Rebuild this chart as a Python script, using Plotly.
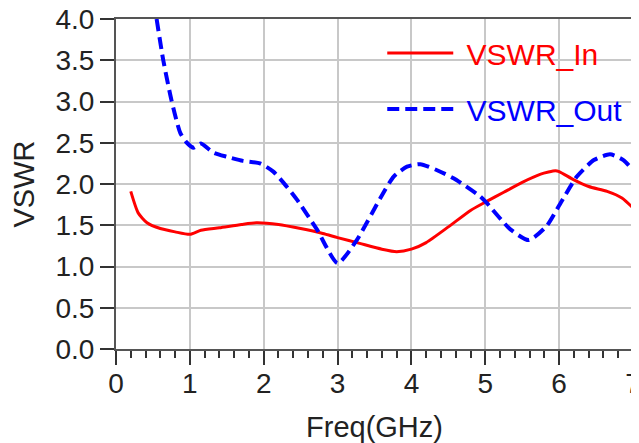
import plotly.graph_objects as go

freq_in = [0.2, 0.3, 0.42, 0.6, 0.8, 1.0, 1.15, 1.4, 1.7, 1.9, 2.2, 2.5, 2.8, 3.0, 3.3, 3.6, 3.8, 4.0, 4.2, 4.5,
           4.8, 5.0, 5.25, 5.5, 5.75, 5.95, 6.0, 6.2, 6.4, 6.65, 6.85, 7.0]
vswr_in = [1.91, 1.65, 1.53, 1.46, 1.42, 1.39, 1.44, 1.47, 1.51, 1.53, 1.51, 1.46, 1.40, 1.35, 1.28, 1.21, 1.18, 1.21, 1.29, 1.48,
           1.68, 1.78, 1.90, 2.02, 2.12, 2.16, 2.15, 2.05, 1.97, 1.91, 1.83, 1.71]

freq_out = [0.55, 0.64, 0.75, 0.87, 0.96, 1.05, 1.15, 1.32, 1.5, 1.72, 1.95, 2.13, 2.31, 2.45, 2.72, 3.0, 3.26, 3.58,
            3.76, 3.94, 4.12, 4.34, 4.57, 4.93, 5.02, 5.34, 5.59, 5.83, 6.02, 6.24, 6.47, 6.69, 6.87, 7.0]
vswr_out = [4.0, 3.5, 3.02, 2.62, 2.50, 2.44, 2.49, 2.38, 2.33, 2.28, 2.25, 2.15, 1.97, 1.81, 1.45, 1.04, 1.32, 1.83,
            2.09, 2.21, 2.24, 2.17, 2.07, 1.85, 1.77, 1.45, 1.32, 1.49, 1.77, 2.09, 2.29, 2.36, 2.29, 2.17]

x_ticks = [0, 1, 2, 3, 4, 5, 6, 7]
y_ticks = [0.0, 0.5, 1.0, 1.5, 2.0, 2.5, 3.0, 3.5, 4.0]

FONT = "Liberation Sans, Arial, sans-serif"
TXT = "#222222"

fig = go.Figure()
fig.add_trace(go.Scatter(x=freq_in, y=vswr_in, mode="lines",
                         name="<span style='color:#FF0000'>\u00a0VSWR_In</span>",
                         line=dict(color="#FF0000", width=3, shape="spline", smoothing=0.6),
                         legendgroup="a"))
fig.add_trace(go.Scatter(x=freq_out, y=vswr_out, mode="lines",
                         name="<span style='color:#0000FF'>\u00a0VSWR_Out</span>",
                         line=dict(color="#0000FF", width=4, dash="12px,6px", shape="spline", smoothing=0.6),
                         legendgroup="b"))

# the page body adds an 8px margin, so the figure is sized/offset to compensate
fig.update_layout(
    width=631, height=435,
    margin=dict(l=108, r=6, t=11, b=94),
    paper_bgcolor="white", plot_bgcolor="white",
    font=dict(family=FONT, color=TXT),
    showlegend=True,
    legend=dict(x=0.515, y=0.976, xanchor="left", yanchor="top",
                bgcolor="rgba(0,0,0,0)", font=dict(size=30, family=FONT),
                itemwidth=66, tracegroupgap=14),
    xaxis=dict(range=[0, 7], tickvals=x_ticks, ticktext=[str(v) for v in x_ticks],
               automargin=False, ticklabeloverflow="allow",
               showgrid=True, gridcolor="#C8C8C8", gridwidth=2,
               showline=True, linecolor="#555555", linewidth=2, mirror=True,
               ticks="outside", ticklen=14, tickwidth=2, tickcolor="#333333",
               tickfont=dict(size=28, color=TXT), ticklabelstandoff=-6,
               minor=dict(ticks="outside", dtick=0.2, ticklen=7, tickwidth=1.5, tickcolor="#333333", showgrid=False),
               zeroline=False,
               title=dict(text="Freq(GHz)", font=dict(size=29, color=TXT), standoff=26)),
    yaxis=dict(range=[0, 4], tickvals=y_ticks, ticktext=["%.1f" % v for v in y_ticks],
               automargin=False, ticklabeloverflow="allow",
               showgrid=True, gridcolor="#C8C8C8", gridwidth=2,
               showline=True, linecolor="#555555", linewidth=2, mirror=True,
               ticks="outside", ticklen=14, tickwidth=2, tickcolor="#333333",
               tickfont=dict(size=28, color=TXT),
               zeroline=False,
               title=dict(text="VSWR", font=dict(size=29, color=TXT), standoff=16)),
)

fig.write_html("out.html")
